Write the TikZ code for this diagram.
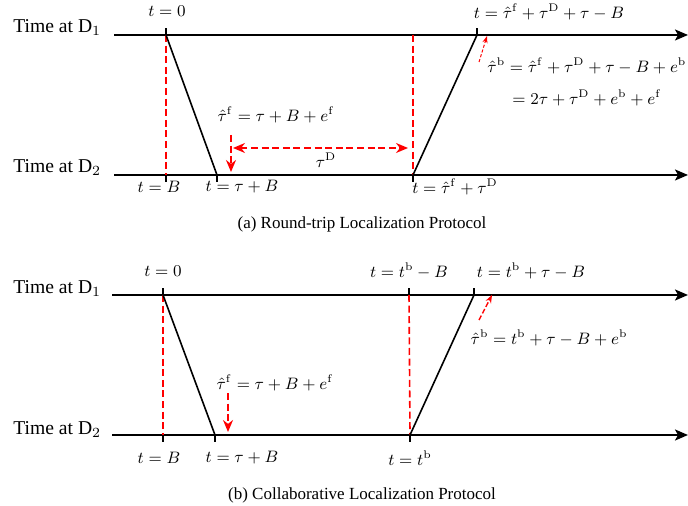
\documentclass[tikz,border=0pt]{standalone}
\usepackage{amsmath}
\usepackage[no-math]{fontspec}
\setmainfont{Liberation Serif}
\usetikzlibrary{arrows.meta}
\begin{document}
\begin{tikzpicture}[x=0.5pt,y=-0.5pt,
 axis/.style={line width=0.9pt,-{Stealth[length=6.5pt,width=5.5pt,inset=1.5pt]}},
 sig/.style={line width=0.8pt},
 tickmark/.style={line width=0.9pt},
 reddash/.style={red, line width=0.8pt, dash pattern=on 3.5pt off 1.8pt},
 redarrow/.style={reddash, -{Stealth[length=6pt,width=5pt]}},
 redboth/.style={reddash, {Stealth[length=6pt,width=5pt]}-{Stealth[length=6pt,width=5pt]}},
 reddot/.style={red, line width=0.5pt, dash pattern=on 1.5pt off 1pt, -{Stealth[length=3.5pt,width=2.5pt]}},
 redsmall/.style={red, line width=0.7pt, dash pattern=on 2.5pt off 1.2pt, -{Stealth[length=4pt,width=3pt]}},
 lbl/.style={font=\small, scale=0.92, transform shape, inner sep=0pt},
 axlbl/.style={font=\fontsize{9.8}{12}\selectfont, anchor=base west, inner sep=0pt},
 captext/.style={font=\fontsize{8.5}{10}\selectfont, inner sep=0pt}]
\useasboundingbox (0,0) rectangle (688,506);

% ---------------- panel (a)
\coordinate (a1s) at (114,35); \coordinate (a1e) at (688,35);
\coordinate (a2s) at (114,175); \coordinate (a2e) at (688,175);
\draw[axis] (a1s) -- (a1e);
\draw[axis] (a2s) -- (a2e);
\node[axlbl] (aT1) at (13,33) {Time at D$_1$};
\node[axlbl] (aT2) at (13,173) {Time at D$_2$};

\coordinate (aP0) at (166,35); \coordinate (aPB) at (166,175);
\coordinate (aPtB) at (217,175);
\coordinate (aPq) at (413,35); \coordinate (aPr) at (413,175);
\coordinate (aPs) at (477,35);

\draw[reddash] (aP0) -- (aPB);
\draw[sig] (aP0) -- (aPtB);
\draw[reddash] (aPq) -- (aPr);
\draw[sig] (aPr) -- (aPs);
\draw[tickmark] (aP0) -- ++(0,-7);
\draw[tickmark] (aPs) -- ++(0,-7);
\draw[tickmark] (aPB) -- ++(0,7);
\draw[tickmark] (aPtB) -- ++(0,7);
\draw[tickmark] (aPr) -- ++(0,7);

\coordinate (aDt) at (231,135); \coordinate (aDb) at (231,172);
\draw[redarrow] (aDt) -- (aDb);
\coordinate (aL) at (233,148); \coordinate (aR) at (408,148);
\draw[redboth] (aL) -- (aR);
\coordinate (aQ) at (479,62); \coordinate (aQe) at (487,36);
\draw[reddot] (aQ) -- (aQe);

\node[lbl] (at0) at (167,11) {$t=0$};
\node[lbl] (atB) at (159,187) {$t=B$};
\node[lbl] (atTB) at (242,187) {$t=\tau+B$};
\node[lbl] (atauf) at (276,115) {$\hat\tau^{\mathrm{f}}=\tau+B+e^{\mathrm{f}}$};
\node[lbl] (atauD) at (326,160) {$\tau^{\mathrm{D}}$};
\node[lbl] (atS) at (549,12) {$t=\hat\tau^{\mathrm{f}}+\tau^{\mathrm{D}}+\tau-B$};
\node[lbl] (atR) at (455,187) {$t=\hat\tau^{\mathrm{f}}+\tau^{\mathrm{D}}$};
\node[lbl, anchor=base west] (ataub1) at (487,73) {$\hat\tau^{\mathrm{b}}=\hat\tau^{\mathrm{f}}+\tau^{\mathrm{D}}+\tau-B+e^{\mathrm{b}}$};
\node[lbl, anchor=base west] (ataub2) at (512,105) {$=2\tau+\tau^{\mathrm{D}}+e^{\mathrm{b}}+e^{\mathrm{f}}$};
\node[captext] (acap) at (362,224) {(a) Round-trip Localization Protocol};

% ---------------- panel (b)
\coordinate (b1s) at (112,295); \coordinate (b1e) at (688,295);
\coordinate (b2s) at (112,435); \coordinate (b2e) at (688,435);
\draw[axis] (b1s) -- (b1e);
\draw[axis] (b2s) -- (b2e);
\node[axlbl] (bT1) at (13,294) {Time at D$_1$};
\node[axlbl] (bT2) at (13,434) {Time at D$_2$};

\coordinate (bP0) at (163,295); \coordinate (bPB) at (163,435);
\coordinate (bPtB) at (215,435);
\coordinate (bPq) at (409,295); \coordinate (bPr) at (410,435);
\coordinate (bPs) at (474,295);

\draw[reddash] (bP0) -- (bPB);
\draw[sig] (bP0) -- (bPtB);
\draw[reddash] (bPq) -- (bPr);
\draw[sig] (bPr) -- (bPs);
\draw[tickmark] (bP0) -- ++(0,-7);
\draw[tickmark] (bPq) -- ++(0,-7);
\draw[tickmark] (bPs) -- ++(0,-7);
\draw[tickmark] (bPB) -- ++(0,7);
\draw[tickmark] (bPtB) -- ++(0,7);
\draw[tickmark] (bPr) -- ++(0,7);

\coordinate (bDt) at (228,393); \coordinate (bDb) at (228,432);
\draw[redarrow] (bDt) -- (bDb);
\coordinate (bQ) at (479,320); \coordinate (bQe) at (492,295);
\draw[redsmall] (bQ) -- (bQe);

\node[lbl] (bt0) at (163,271) {$t=0$};
\node[lbl] (btB) at (159,458) {$t=B$};
\node[lbl] (btTB) at (242,458) {$t=\tau+B$};
\node[lbl] (btauf) at (275,383) {$\hat\tau^{\mathrm{f}}=\tau+B+e^{\mathrm{f}}$};
\node[lbl] (btq) at (409,271) {$t=t^{\mathrm{b}}-B$};
\node[lbl] (bts) at (531,271) {$t=t^{\mathrm{b}}+\tau-B$};
\node[lbl] (btaub) at (549,338) {$\hat\tau^{\mathrm{b}}=t^{\mathrm{b}}+\tau-B+e^{\mathrm{b}}$};
\node[lbl] (btr) at (410,458) {$t=t^{\mathrm{b}}$};
\node[captext] (bcap) at (362,495) {(b) Collaborative Localization Protocol};
\end{tikzpicture}
\end{document}
